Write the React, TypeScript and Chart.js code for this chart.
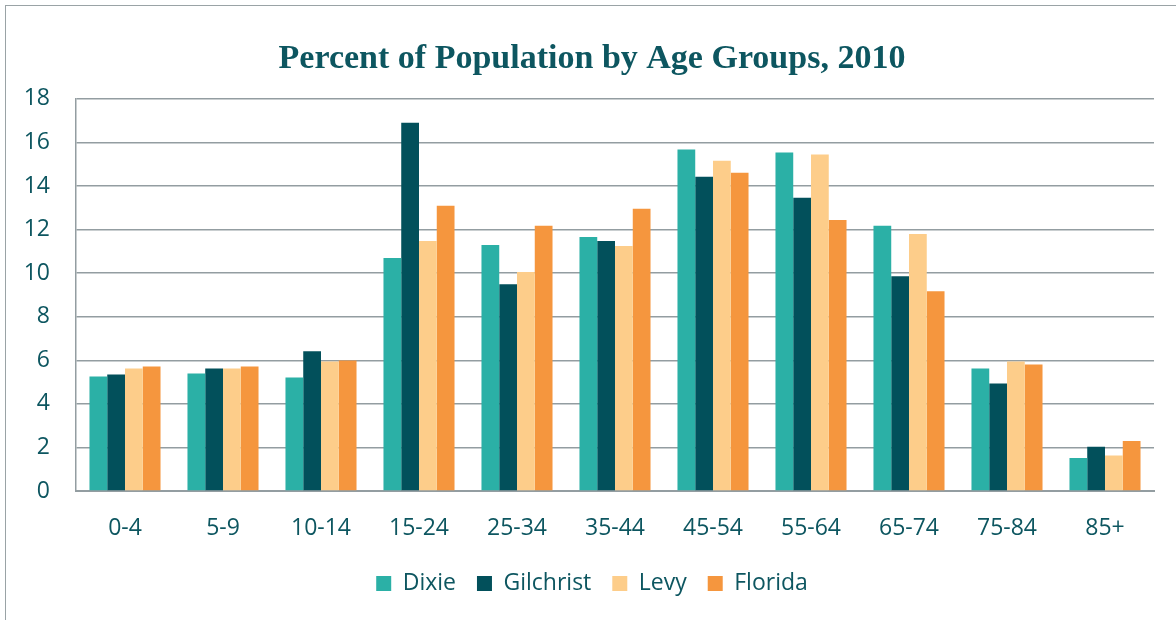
import React, { useEffect, useRef } from "react";
import { Chart, registerables } from "chart.js";

Chart.register(...registerables);

const categories = ["0-4", "5-9", "10-14", "15-24", "25-34", "35-44", "45-54", "55-64", "65-74", "75-84", "85+"];
const dixie = [5.25, 5.39, 5.21, 10.69, 11.29, 11.66, 15.67, 15.53, 12.17, 5.62, 1.52];
const gilchrist = [5.35, 5.62, 6.41, 16.9, 9.49, 11.47, 14.42, 13.46, 9.86, 4.93, 2.03];
const levy = [5.62, 5.62, 5.94, 11.47, 10.05, 11.24, 15.16, 15.44, 11.8, 5.94, 1.63];
const florida = [5.71, 5.71, 5.99, 13.09, 12.17, 12.95, 14.61, 12.44, 9.17, 5.81, 2.3];
const yTicks = [0, 2, 4, 6, 8, 10, 12, 14, 16, 18];

const TEXT = "#0d5660";
const GRID = "#939da1";
const LABEL_FONT = "'Open Sans', 'Liberation Sans', sans-serif";

export default function App() {
  const ref = useRef<HTMLCanvasElement | null>(null);
  useEffect(() => {
    if (!ref.current) return;
    const chart = new Chart(ref.current, {
      type: "bar",
      data: {
        labels: categories,
        datasets: [
          { label: "Dixie", data: dixie, backgroundColor: "#2bb0a6" },
          { label: "Gilchrist", data: gilchrist, backgroundColor: "#02505b" },
          { label: "Levy", data: levy, backgroundColor: "#fdcd8a" },
          { label: "Florida", data: florida, backgroundColor: "#f5963e" },
        ],
      },
      options: {
        responsive: false,
        animation: false,
        devicePixelRatio: 1,
        layout: { padding: { left: 8, right: 0, top: 0, bottom: 15 } },
        datasets: { bar: { barPercentage: 1, categoryPercentage: 0.725 } },
        plugins: {
          title: {
            display: true,
            text: "Percent of Population by Age Groups, 2010",
            color: TEXT,
            font: { family: "'Liberation Serif', serif", size: 34, weight: "bold", lineHeight: 1.2 },
            padding: { top: 39, bottom: 19 },
          },
          legend: {
            position: "bottom",
            labels: {
              color: TEXT,
              font: { family: LABEL_FONT, size: 23 },
              boxWidth: 15,
              boxHeight: 15,
              padding: 21,
            },
          },
          tooltip: { enabled: false },
        },
        scales: {
          x: {
            grid: { display: false, drawTicks: false },
            border: { display: true, color: GRID, width: 2 },
            ticks: { color: TEXT, font: { family: LABEL_FONT, size: 23 }, padding: 24 },
            afterFit: (s: any) => { s.height = 60; },
          },
          y: {
            min: 0,
            max: 18,
            afterBuildTicks: (s: any) => { s.ticks = yTicks.map((v) => ({ value: v })); },
            grid: { color: GRID, lineWidth: 1.5, drawTicks: false },
            border: { display: true, color: GRID, width: 1.5 },
            ticks: { color: TEXT, font: { family: LABEL_FONT, size: 23 }, padding: 26 },
            afterFit: (s: any) => { s.width = 68; },
          },
          yRight: {
            position: "right",
            display: true,
            grid: { display: false, drawTicks: false },
            border: { display: false },
            ticks: { display: false },
            afterFit: (s: any) => { s.width = 22; },
          },
        },
      },
    });
    return () => chart.destroy();
  }, []);
  return (
    <div style={{ position: "fixed", left: 0, top: 0, width: 1176, height: 620, overflow: "hidden", background: "#fff" }}>
      <div style={{ position: "absolute", left: 5, top: 5, width: 1300, height: 800, border: "1.5px solid #9aa3a6" }} />
      <canvas ref={ref} width={1176} height={620} style={{ position: "absolute", left: 0, top: 0, width: 1176, height: 620 }} />
    </div>
  );
}
